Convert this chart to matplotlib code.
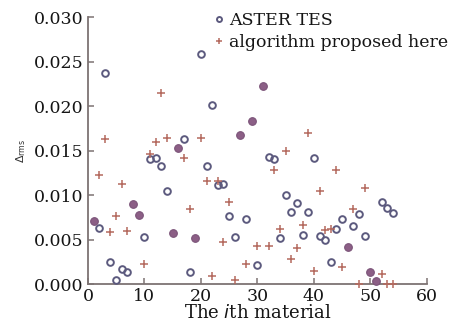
import matplotlib
matplotlib.use('Agg')
import matplotlib.pyplot as plt
import numpy as np

# material index
material = np.arange(1, 55)

# ASTER TES errors (circles)
aster = [0.0071, 0.0063, 0.0237, 0.0025, 0.0004, 0.0017, 0.0013, 0.0090, 0.0078, 0.0053,
         0.0140, 0.0142, 0.0133, 0.0105, 0.0057, 0.0153, 0.0163, 0.0014, 0.0052, 0.0258,
         0.0133, 0.0201, 0.0111, 0.0112, 0.0076, 0.0053, 0.0167, 0.0073, 0.0183, 0.0021,
         0.0223, 0.0143, 0.0140, 0.0052, 0.0100, 0.0081, 0.0091, 0.0055, 0.0081, 0.0142,
         0.0054, 0.0049, 0.0025, 0.0062, 0.0073, 0.0042, 0.0065, 0.0079, 0.0054, 0.0013,
         0.0003, 0.0092, 0.0086, 0.0080]

# proposed algorithm errors (pluses)
proposed = [0.0071, 0.0123, 0.0163, 0.0058, 0.0077, 0.0112, 0.0060, 0.0090, 0.0078, 0.0022,
            0.0146, 0.0160, 0.0215, 0.0164, 0.0057, 0.0153, 0.0142, 0.0084, 0.0052, 0.0164,
            0.0116, 0.0009, 0.0116, 0.0047, 0.0092, 0.0004, 0.0167, 0.0022, 0.0183, 0.0043,
            0.0223, 0.0043, 0.0128, 0.0062, 0.0149, 0.0028, 0.0040, 0.0066, 0.0170, 0.0015,
            0.0105, 0.0061, 0.0062, 0.0128, 0.0019, 0.0042, 0.0084, 0.0000, 0.0108, 0.0013,
            0.0003, 0.0011, 0.0000, 0.0000]

xticks = [0, 10, 20, 30, 40, 50, 60]
yticks = [0.000, 0.005, 0.010, 0.015, 0.020, 0.025, 0.030]

aster = np.array(aster)
proposed = np.array(proposed)
same = np.isclose(aster, proposed)

plt.rcParams['font.family'] = ['DejaVu Serif']
axcol = '#7d7373'
txt = '#151515'

fig = plt.figure(figsize=(4.65, 3.28), dpi=100)
ax = fig.add_axes([0.189, 0.134, 0.729, 0.814])

# circles and pluses where the two differ, filled dots where they coincide
ax.plot(material[~same], aster[~same], 'o', ms=4.8, mfc='none', mec='#5c5a7e', mew=1.4,
        ls='none', label='ASTER TES', clip_on=False, zorder=3)
ax.plot(material[~same], proposed[~same], '+', ms=6, mec='#b4695e', mew=1.1,
        ls='none', label='algorithm proposed here', clip_on=False, zorder=3)
ax.plot(material[same], aster[same], 'o', ms=5.5, mfc='#8c5f86', mec='#7c5479', mew=0.8,
        ls='none', clip_on=False, zorder=3)

ax.set_xlim(0, 60)
ax.set_ylim(0, 0.03)
ax.set_xticks(xticks)
ax.set_yticks(yticks)
ax.set_yticklabels(['%.3f' % v for v in yticks])

for s in ['top', 'right']:
    ax.spines[s].set_visible(False)
for s in ['left', 'bottom']:
    ax.spines[s].set_color(axcol)
    ax.spines[s].set_linewidth(1.3)
ax.tick_params(direction='in', length=4, width=1.1, color=axcol,
               labelsize=12.5, labelcolor=txt, pad=3)

ax.set_xlabel('The $i$th material', fontsize=13, color=txt, labelpad=-1)
ax.set_ylabel(r'$\Delta_{\rm rms}$', fontsize=8, color='#333333', labelpad=4)

ax.legend(loc='upper left', bbox_to_anchor=(0.447, 0.985), bbox_transform=fig.transFigure,
          frameon=False, fontsize=12.5, handlelength=0.5, handletextpad=0.3,
          labelspacing=0.3, borderaxespad=0, markerscale=0.75, labelcolor=txt)

fig.savefig('out.png', dpi=100)
